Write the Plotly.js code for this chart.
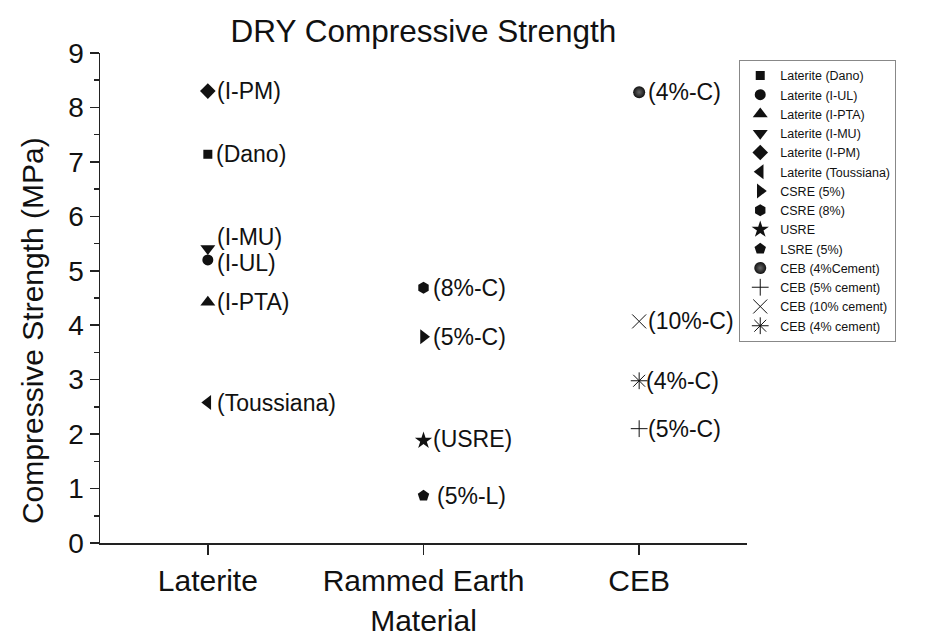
<!DOCTYPE html>
<html>
<head>
<meta charset="utf-8">
<script src="https://cdn.plot.ly/plotly-3.0.1.min.js"></script>
<style>html,body{margin:0;padding:0;background:#fff;}#chart{width:925px;height:641px;}</style>
</head>
<body>
<div id="chart"></div>
<script>
// ---- data ----
const materials = ['Laterite', 'Rammed Earth', 'CEB'];
const seriesNames = [
  'Laterite (Dano)', 'Laterite (I-UL)', 'Laterite (I-PTA)', 'Laterite (I-MU)',
  'Laterite (I-PM)', 'Laterite (Toussiana)', 'CSRE (5%)', 'CSRE (8%)', 'USRE',
  'LSRE (5%)', 'CEB (4%Cement)', 'CEB (5% cement)', 'CEB (10% cement)', 'CEB (4% cement)'
];
const seriesMaterial = [
  'Laterite', 'Laterite', 'Laterite', 'Laterite', 'Laterite', 'Laterite',
  'Rammed Earth', 'Rammed Earth', 'Rammed Earth', 'Rammed Earth',
  'CEB', 'CEB', 'CEB', 'CEB'
];
const seriesValues = [7.14, 5.20, 4.42, 5.41, 8.30, 2.58, 3.79, 4.69, 1.88, 0.87, 8.28, 2.10, 4.07, 2.98];
const pointLabels = [
  '(Dano)', '(I-UL)', '(I-PTA)', '(I-MU)', '(I-PM)', '(Toussiana)',
  '(5%-C)', '(8%-C)', '(USRE)', '(5%-L)',
  '(4%-C)', '(5%-C)', '(10%-C)', '(4%-C)'
];

// ---- styles ----
const symbols = ['square', 'circle', 'triangle-up', 'triangle-down', 'diamond', 'triangle-left',
  'triangle-right', 'hexagon', 'star', 'pentagon', 'circle', 'cross-thin-open', 'x-thin-open', 'asterisk-open'];
const sizes = [9, 11, 13, 13, 12, 13, 13, 12, 13, 12, 12, 12, 14, 14];
const labelDx = [6, 7, 7, 7, 7, 7, 7, 7, 7, 11, 7, 7, 7, 5];
const labelDy = [0, -3, 0, 11, 0, 0, 0, 0, 2, 0, 0, 0, 0, 0];

const FONT = "Arial, 'Liberation Sans', sans-serif";
const INK = '#111';

const traces = seriesNames.map((name, i) => {
  const thin = symbols[i].indexOf('thin') >= 0 || symbols[i].indexOf('asterisk') >= 0;
  const marker = {symbol: symbols[i], size: sizes[i], color: INK, line: {color: INK, width: thin ? 1 : 0}};
  if (i === 10) marker.gradient = {type: 'radial', color: '#666'};
  return {
    type: 'scatter', mode: 'markers', name: name,
    x: [seriesMaterial[i]], y: [seriesValues[i]],
    marker: marker, cliponaxis: false, hoverinfo: 'name+y'
  };
});

const annotations = pointLabels.map((t, i) => ({
  x: seriesMaterial[i], y: seriesValues[i], xref: 'x', yref: 'y',
  text: t, showarrow: false, xanchor: 'left', yanchor: 'middle',
  xshift: labelDx[i], yshift: labelDy[i],
  font: {family: FONT, size: 23, color: INK}
}));
annotations.push({
  xref: 'paper', yref: 'paper', x: -0.104, y: 0.434,
  text: 'Compressive Strength (MPa)', textangle: -90, showarrow: false,
  xanchor: 'center', yanchor: 'middle',
  font: {family: FONT, size: 30, color: INK}
});

const layout = {
  width: 925, height: 641,
  margin: {l: 100, r: 178, t: 53, b: 98},
  paper_bgcolor: '#fff', plot_bgcolor: '#fff',
  font: {family: FONT, color: INK},
  title: {text: 'DRY Compressive Strength', font: {family: FONT, size: 31.5, color: INK},
    xref: 'paper', x: 0.5, xanchor: 'center', y: 0.952, yanchor: 'middle'},
  xaxis: {
    type: 'category', categoryorder: 'array', categoryarray: materials,
    range: [-0.5, 2.5], showgrid: false, zeroline: false,
    showline: true, linecolor: '#222', linewidth: 1.5,
    ticks: 'outside', ticklen: 10, tickwidth: 1.5, tickcolor: '#222',
    tickfont: {family: FONT, size: 30, color: INK},
    title: {text: 'Material', font: {family: FONT, size: 30, color: INK}, standoff: 14},
    automargin: false
  },
  yaxis: {
    range: [0, 9], dtick: 1, showgrid: false, zeroline: false,
    showline: true, linecolor: '#222', linewidth: 1.5,
    ticks: 'outside', ticklen: 9, tickwidth: 1.5, tickcolor: '#222',
    minor: {dtick: 0.5, ticks: 'outside', ticklen: 5, tickwidth: 1.5, tickcolor: '#222', showgrid: false},
    tickfont: {family: FONT, size: 28, color: INK},
    automargin: false
  },
  annotations: annotations,
  showlegend: true,
  legend: {
    x: 0.988, y: 0.986, xanchor: 'left', yanchor: 'top',
    bordercolor: '#888', borderwidth: 1, bgcolor: '#fff',
    font: {family: FONT, size: 12.5, color: INK},
    tracegroupgap: 0, itemsizing: 'trace'
  }
};

Plotly.newPlot('chart', traces, layout, {displayModeBar: false, staticPlot: true});
</script>
</body>
</html>
